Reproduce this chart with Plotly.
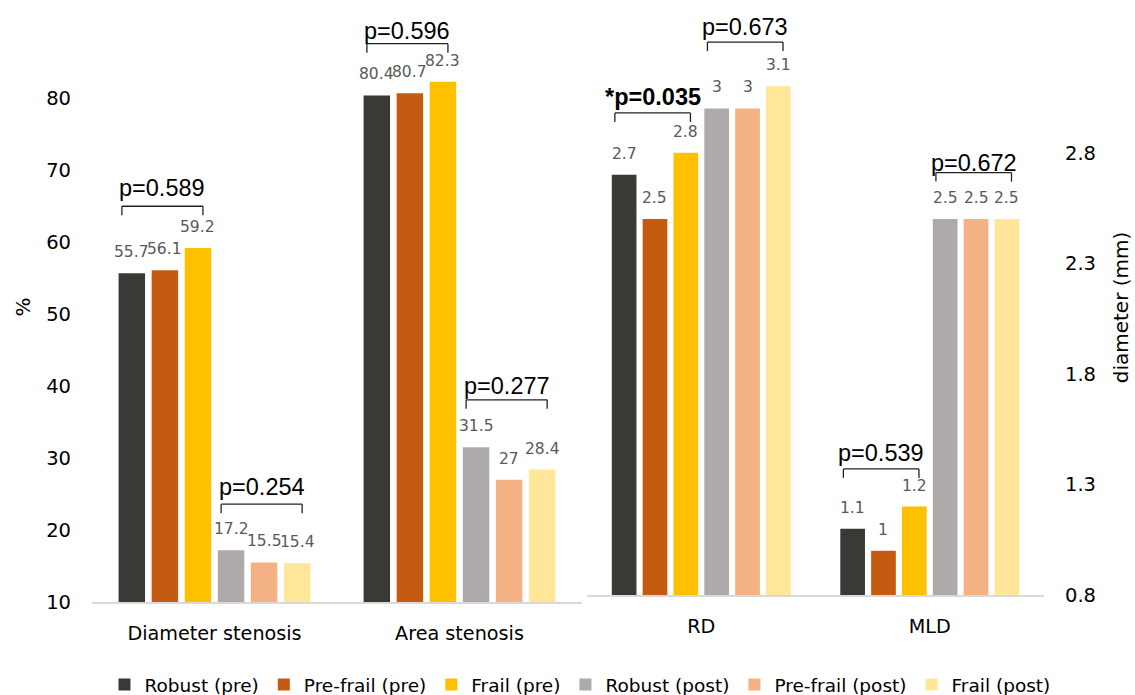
import plotly.graph_objects as go

# Frailty groups, measured before (pre) and after (post) the procedure
groups = ["Robust (pre)", "Pre-frail (pre)", "Frail (pre)",
          "Robust (post)", "Pre-frail (post)", "Frail (post)"]
colors = ["#3B3936", "#C55A11", "#FFC000", "#AEAAAA", "#F4B183", "#FFE699"]

# Left panel: stenosis in percent
pct_categories = ["Diameter stenosis", "Area stenosis"]
pct_robust_pre = [55.7, 80.4]
pct_prefrail_pre = [56.1, 80.7]
pct_frail_pre = [59.2, 82.3]
pct_robust_post = [17.2, 31.5]
pct_prefrail_post = [15.5, 27]
pct_frail_post = [15.4, 28.4]
pct_values = [pct_robust_pre, pct_prefrail_pre, pct_frail_pre,
              pct_robust_post, pct_prefrail_post, pct_frail_post]
pct_ticks = [10, 20, 30, 40, 50, 60, 70, 80]

# Right panel: vessel diameters in mm
mm_categories = ["RD", "MLD"]
mm_robust_pre = [2.7, 1.1]
mm_prefrail_pre = [2.5, 1.0]
mm_frail_pre = [2.8, 1.2]
mm_robust_post = [3.0, 2.5]
mm_prefrail_post = [3.0, 2.5]
mm_frail_post = [3.1, 2.5]
mm_values = [mm_robust_pre, mm_prefrail_pre, mm_frail_pre,
             mm_robust_post, mm_prefrail_post, mm_frail_post]
mm_ticks = [0.8, 1.3, 1.8, 2.3, 2.8]

# Group comparisons: panel, category index, first bar, last bar,
# bracket level, label level, label
p_brackets = [
    ("pct", 0, 0, 2, 65.0, 67.5, "p=0.589"),
    ("pct", 1, 0, 2, 87.6, 89.4, "p=0.596"),
    ("pct", 0, 3, 5, 23.6, 26.0, "p=0.254"),
    ("pct", 1, 3, 5, 38.1, 40.0, "p=0.277"),
    ("mm", 0, 0, 2, 2.98, 3.05, "<b>*p=0.035</b>"),
    ("mm", 0, 3, 5, 3.30, 3.37, "p=0.673"),
    ("mm", 1, 0, 2, 1.37, 1.44, "p=0.539"),
    ("mm", 1, 3, 5, 2.71, 2.755, "p=0.672"),
]

W, H = 1135, 695
BARGAP = 0.19
SLOT = (1 - BARGAP) / len(groups)
LABEL_FONT = "DejaVu Sans, sans-serif"
P_FONT = "Liberation Sans, Arial, sans-serif"


def bar_center(cat_index, group_index):
    return cat_index + (group_index - (len(groups) - 1) / 2) * SLOT


fig = go.Figure()

panels = {
    "pct": dict(cats=pct_categories, vals=pct_values, xa="x", ya="y"),
    "mm": dict(cats=mm_categories, vals=mm_values, xa="x2", ya="y2"),
}

annotations = []
shapes = []

for key, p in panels.items():
    for gi, (name, color, vals) in enumerate(zip(groups, colors, p["vals"])):
        fig.add_trace(go.Bar(
            x=p["cats"], y=vals, name=name,
            marker=dict(color=color, line=dict(width=0)),
            xaxis=p["xa"], yaxis=p["ya"],
            legendgroup=name, showlegend=(key == "pct"),
            hovertemplate="%{x}: %{y}<extra>" + name + "</extra>",
        ))
        for ci, v in enumerate(vals):
            annotations.append(dict(
                x=bar_center(ci, gi), y=v, xref=p["xa"], yref=p["ya"],
                text=f"{v:g}", showarrow=False, yanchor="middle", yshift=21,
                font=dict(family=LABEL_FONT, size=15.5, color="#595959"),
            ))

for key, ci, g0, g1, level, text_level, label in p_brackets:
    p = panels[key]
    x0 = bar_center(ci, g0) - 0.3 * SLOT
    x1 = bar_center(ci, g1) + 0.15 * SLOT
    line = dict(color="#222222", width=1.3)
    shapes.append(dict(type="line", xref=p["xa"], yref=p["ya"],
                       x0=x0, x1=x1, y0=level, y1=level, line=line))
    for xe in (x0, x1):
        shapes.append(dict(type="line", xref=p["xa"], yref=p["ya"],
                           ysizemode="pixel", yanchor=level, y0=0, y1=-9,
                           x0=xe, x1=xe, line=line))
    annotations.append(dict(
        x=(x0 + x1) / 2, y=text_level, xref=p["xa"], yref=p["ya"],
        text=label, showarrow=False, yanchor="middle",
        font=dict(family=P_FONT, size=23.5, color="#000000"),
    ))

axis_common = dict(showgrid=False, zeroline=False, ticks="", fixedrange=True)

fig.update_layout(
    width=W, height=H,
    margin=dict(l=0, r=0, t=0, b=0, autoexpand=False),
    paper_bgcolor="white", plot_bgcolor="white",
    barmode="group", bargap=BARGAP, bargroupgap=0.2,
    font=dict(family=LABEL_FONT, color="#000000"),
    xaxis=dict(domain=[92 / W, 582 / W], anchor="y", showline=True,
               linecolor="#D9D9D9", linewidth=2, ticklabelstandoff=13,
               tickfont=dict(size=19.2), **axis_common),
    yaxis=dict(domain=[1 - 602 / H, 1 - 12 / H], anchor="x", range=[10, 92],
               tickvals=pct_ticks, showline=False, ticklabelstandoff=20,
               tickfont=dict(size=19.5),
               title=dict(text="%", font=dict(size=20), standoff=10),
               **axis_common),
    xaxis2=dict(domain=[587 / W, 1044 / W], anchor="y2", showline=True,
                linecolor="#D9D9D9", linewidth=2, ticklabelstandoff=13,
                tickfont=dict(size=19.2), **axis_common),
    yaxis2=dict(domain=[1 - 595 / H, 1 - 20 / H], anchor="x2", side="right",
                range=[0.8, 3.4], tickvals=mm_ticks, showline=False,
                ticklabelstandoff=20, tickfont=dict(size=19.5),
                title=dict(text="diameter (mm)", font=dict(size=20), standoff=18),
                **axis_common),
    legend=dict(orientation="h", x=0.511, xanchor="center", y=-0.013,
                yanchor="bottom", font=dict(size=18.5), itemwidth=30,
                traceorder="normal"),
    annotations=annotations,
    shapes=shapes,
)

fig.write_html("out.html")
